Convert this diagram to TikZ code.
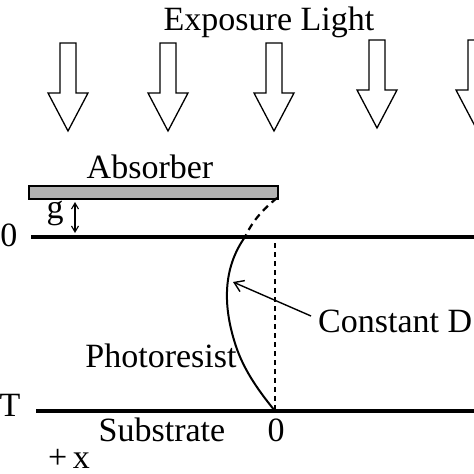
\documentclass[tikz,border=0pt]{standalone}
\usepackage{fontspec}
\usetikzlibrary{arrows.meta}
\setmainfont{Liberation Serif}
\begin{document}
\begin{tikzpicture}[x=1pt,y=-1pt,
  lbl/.style={font=\fontsize{34}{34}\selectfont, inner sep=0pt, anchor=base},
  blockarrow/.style={draw=black, line width=1.3pt, fill=white, line join=miter},
  thickline/.style={line width=3.2pt}]
\useasboundingbox (0,0) rectangle (474,474);
% exposure arrows
\foreach \cx/\dy in {68/0,168/0,274/0,377/-3,476/-3}{
  \draw[blockarrow] (\cx-8,43+\dy) -- (\cx+8,43+\dy) -- (\cx+8,93+\dy) -- (\cx+20,93+\dy)
     -- (\cx,131+\dy) -- (\cx-20,93+\dy) -- (\cx-8,93+\dy) -- cycle;
}
\node[lbl] (title) at (269,30) {Exposure Light};
% absorber
\node[lbl] (abstxt) at (150,178) {Absorber};
\node[draw=black, line width=2pt, fill=gray!60, minimum width=249pt, minimum height=13pt, inner sep=0pt, anchor=north west] (absorber) at (28,185) {};
% gap
\node[lbl] (g) at (55,218) {g};
\coordinate (gtop) at (75,202);
\coordinate (gbot) at (75,233);
\draw[{Straight Barb[length=6pt,width=7pt]}-{Straight Barb[length=6pt,width=7pt]}, line width=1.1pt] (gtop) -- (gbot);
% surface and substrate lines
\coordinate (s0) at (31,237);
\coordinate (s1) at (474,237);
\draw[thickline] (s0) -- (s1);
\coordinate (b0) at (36,411);
\coordinate (b1) at (474,411);
\draw[thickline] (b0) -- (b1);
\node[lbl] (zeroL) at (9,246) {0};
\node[lbl] (T) at (10,416) {T};
% profile curve
\coordinate (corner) at (277,198);
\coordinate (cross) at (245,237);
\coordinate (bottom) at (275,411);
\draw[line width=2.2pt, dash pattern=on 7pt off 5pt] (corner) .. controls (262,210) and (252,222) .. (cross);
\draw[line width=2pt] (cross) .. controls (225,265) and (222,300) .. (234,340) .. controls (242,368) and (258,390) .. (bottom);
% dotted vertical
\coordinate (dtop) at (275,243);
\draw[line width=2.8pt, dash pattern=on 5pt off 4pt] (dtop) -- (bottom);
% constant D
\node[lbl, anchor=base west] (cd) at (318,332) {Constant D};
\coordinate (cdtip) at (233,282);
\draw[-{Straight Barb[length=9pt,width=12pt]}, line width=1.4pt] (311,316) -- (cdtip);
% labels
\node[lbl] (pr) at (161,367) {Photoresist};
\node[lbl] (sub) at (162,441) {Substrate};
\node[lbl] (zeroB) at (276,441) {0};
\node[lbl] (px) at (69,468) {+\,x};
\end{tikzpicture}
\end{document}
